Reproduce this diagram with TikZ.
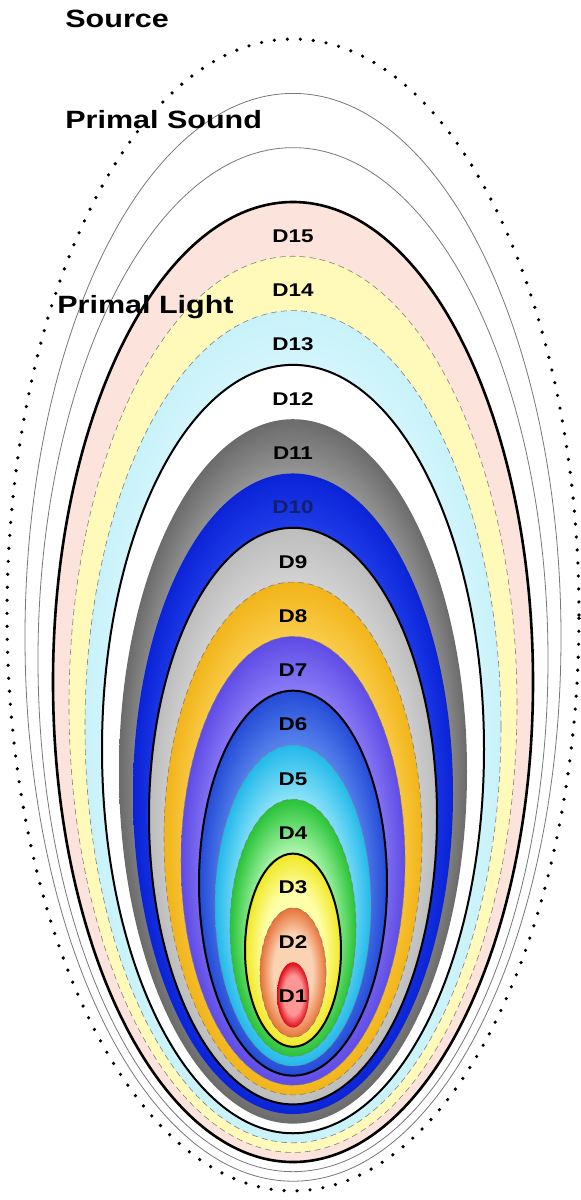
\documentclass[tikz,border=0pt]{standalone}
\usepackage{fontspec}
\usepackage{tikz}
\usetikzlibrary{shapes.geometric,positioning}
\newfontfamily\widesans[FakeStretch=1.22]{Liberation Sans}

\definecolor{rimgray}{RGB}{120,120,120}
\definecolor{pinkD}{RGB}{252,228,220}
\definecolor{creamD}{RGB}{255,250,185}
\definecolor{iceD}{RGB}{200,242,250}
\definecolor{iceDin}{RGB}{235,252,254}

\makeatletter
\pgfdeclareradialshading[tikz@radial@inner,tikz@radial@outer]{rimglow}{\pgfpointorigin}{%
	color(0bp)=(tikz@radial@inner);
	color(15bp)=(tikz@radial@inner);
	color(25bp)=(tikz@radial@outer);
	color(50bp)=(tikz@radial@outer)}
\makeatother

\begin{document}
\begin{tikzpicture}[x=0.5pt,y=-0.5pt,
	ring/.style={ellipse,inner sep=0pt,outer sep=0pt},
	glow/.style 2 args={inner color=#1,outer color=#2,shading=rimglow},
	blackrim/.style={draw=black,line width=1pt},
	thinrim/.style={draw=black!50,densely dashed,line width=0.3pt},
	dlabel/.style={font=\widesans\bfseries\fontsize{9.2}{10}\selectfont,inner sep=0pt},
	biglabel/.style={font=\widesans\bfseries\fontsize{12.5}{14}\selectfont,inner sep=0pt,anchor=base west}]
	\useasboundingbox[fill=white] (0,0) rectangle (581,1200);
	% outer fields
	\node[ring,draw,line width=1.8pt,dash pattern=on 0pt off 6.5pt,line cap=round,minimum width=286pt,minimum height=575.9pt] (source) at (293,614.95) {};
	\node[ring,draw=rimgray,line width=0.4pt,minimum width=268pt,minimum height=543.9pt] (sound) at (293,637.3) {};
	\node[ring,draw=rimgray,line width=0.4pt,minimum width=255pt,minimum height=512pt] (light) at (293,659.65) {};
	% dimensions
	\node[ring,fill=pinkD,draw=black,line width=1.3pt,minimum width=240pt,minimum height=480pt] (d15) at (293,682) {};
	\node[ring,fill=creamD,thinrim,minimum width=224pt,minimum height=448.1pt] (d14) at (293,704.35) {};
	\node[ring,glow={iceDin}{iceD},thinrim,minimum width=208pt,minimum height=416.1pt] (d13) at (293,726.7) {};
	\node[ring,fill=white,blackrim,minimum width=191pt,minimum height=384.2pt] (d12) at (293,749.05) {};
	\node[ring,glow={black!15}{black!58},minimum width=174pt,minimum height=352.2pt] (d11) at (293,771.4) {};
	\node[ring,glow={{rgb,255:red,60;green,95;blue,255}}{{rgb,255:red,10;green,35;blue,215}},minimum width=160pt,minimum height=320.3pt] (d10) at (293,793.75) {};
	\node[ring,glow={black!8}{black!26},blackrim,minimum width=144pt,minimum height=288.3pt] (d9) at (293,816.1) {};
	\node[ring,glow={{rgb,255:red,255;green,225;blue,120}}{{rgb,255:red,242;green,180;blue,25}},thinrim,minimum width=129pt,minimum height=256.4pt] (d8) at (293,838.45) {};
	\node[ring,glow={{rgb,255:red,165;green,155;blue,255}}{{rgb,255:red,95;green,75;blue,230}},thinrim,minimum width=112pt,minimum height=224.4pt] (d7) at (293,860.8) {};
	\node[ring,glow={{rgb,255:red,110;green,155;blue,245}}{{rgb,255:red,35;green,75;blue,215}},blackrim,minimum width=94pt,minimum height=192.5pt] (d6) at (293,883.15) {};
	\node[ring,glow={{rgb,255:red,160;green,235;blue,250}}{{rgb,255:red,35;green,185;blue,235}},thinrim,minimum width=78pt,minimum height=160.5pt] (d5) at (293,905.5) {};
	\node[ring,glow={{rgb,255:red,170;green,245;blue,170}}{{rgb,255:red,40;green,195;blue,55}},thinrim,minimum width=63pt,minimum height=128.6pt] (d4) at (293,927.85) {};
	\node[ring,glow={{rgb,255:red,255;green,255;blue,170}}{{rgb,255:red,240;green,232;blue,35}},blackrim,minimum width=48pt,minimum height=96.6pt] (d3) at (293,950.2) {};
	\node[ring,glow={{rgb,255:red,250;green,210;blue,180}}{{rgb,255:red,232;green,115;blue,55}},thinrim,minimum width=33pt,minimum height=64.7pt] (d2) at (293,972.55) {};
	\node[ring,glow={{rgb,255:red,255;green,150;blue,150}}{{rgb,255:red,220;green,10;blue,20}},minimum width=16pt,minimum height=32.7pt] (d1) at (293,994.9) {};
	% labels
	\node[dlabel] (t15) at ([yshift=-17pt]d15.north) {D15};
	\node[dlabel] (t14) at ([yshift=-17pt]d14.north) {D14};
	\node[dlabel] (t13) at ([yshift=-17pt]d13.north) {D13};
	\node[dlabel] (t12) at ([yshift=-17pt]d12.north) {D12};
	\node[dlabel] (t11) at ([yshift=-17pt]d11.north) {D11};
	\node[dlabel,text={rgb,255:red,20;green,30;blue,110}] (t10) at ([yshift=-17pt]d10.north) {D10};
	\node[dlabel] (t9) at ([yshift=-17pt]d9.north) {D9};
	\node[dlabel] (t8) at ([yshift=-17pt]d8.north) {D8};
	\node[dlabel] (t7) at ([yshift=-17pt]d7.north) {D7};
	\node[dlabel] (t6) at ([yshift=-17pt]d6.north) {D6};
	\node[dlabel] (t5) at ([yshift=-17pt]d5.north) {D5};
	\node[dlabel] (t4) at ([yshift=-17pt]d4.north) {D4};
	\node[dlabel] (t3) at ([yshift=-17pt]d3.north) {D3};
	\node[dlabel] (t2) at ([yshift=-17pt]d2.north) {D2};
	\node[dlabel] (t1) at ([yshift=-17pt]d1.north) {D1};
	\node[biglabel] (tsource) at (65,27) {Source};
	\node[biglabel] (tsound) at (65,128) {Primal Sound};
	\node[biglabel] (tlight) at (57,313) {Primal Light};
\end{tikzpicture}
\end{document}
